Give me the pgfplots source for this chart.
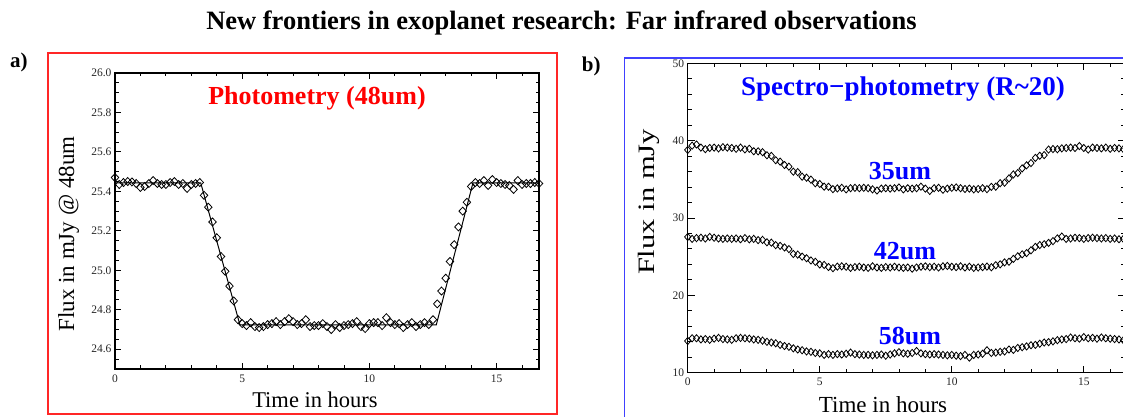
\documentclass[border=0pt]{standalone}
\usepackage{fontspec}
\setmainfont{Liberation Serif}
\usepackage{graphicx}
\usepackage{pgfplots}
\pgfplotsset{compat=1.18}
\usepackage{pgfplotstable}

\pgfplotstableread{
t flux
0 25.47
0.167 25.435
0.333 25.445
0.5 25.45
0.667 25.448
0.833 25.44
1 25.42
1.167 25.425
1.333 25.44
1.5 25.455
1.667 25.44
1.833 25.435
2 25.435
2.167 25.445
2.333 25.45
2.5 25.435
2.667 25.44
2.833 25.415
3 25.435
3.167 25.44
3.333 25.445
3.5 25.38
3.667 25.32
3.833 25.245
4 25.165
4.167 25.07
4.333 24.995
4.5 24.92
4.667 24.845
4.833 24.75
5 24.73
5.167 24.72
5.333 24.735
5.5 24.715
5.667 24.71
5.833 24.715
6 24.725
6.167 24.73
6.333 24.74
6.5 24.725
6.667 24.74
6.833 24.755
7 24.74
7.167 24.725
7.333 24.73
7.5 24.75
7.667 24.715
7.833 24.72
8 24.72
8.167 24.73
8.333 24.715
8.5 24.70
8.667 24.725
8.833 24.71
9 24.72
9.167 24.725
9.333 24.73
9.5 24.74
9.667 24.715
9.833 24.705
10 24.73
10.167 24.735
10.333 24.735
10.5 24.72
10.667 24.76
10.833 24.735
11 24.725
11.167 24.73
11.333 24.71
11.5 24.725
11.667 24.735
11.833 24.715
12 24.725
12.167 24.735
12.333 24.725
12.5 24.75
12.667 24.83
12.833 24.895
13 24.96
13.167 25.045
13.333 25.13
13.5 25.22
13.667 25.30
13.833 25.345
14 25.425
14.167 25.445
14.333 25.44
14.5 25.455
14.667 25.43
14.833 25.46
15 25.445
15.167 25.44
15.333 25.435
15.5 25.43
15.667 25.41
15.833 25.455
16 25.435
16.167 25.44
16.333 25.44
16.5 25.445
16.667 25.44
}\tablea

\pgfplotstableread{
t f35 f42 f58
0 38.8 27.55 14.1
0.167 39.35 27.3 14.45
0.333 39.5 27.4 14.45
0.5 39.1 27.45 14.3
0.667 38.9 27.35 14.35
0.833 39.05 27.55 14.25
1 39.1 27.45 14.4
1.167 39.0 27.35 14.5
1.333 39.15 27.3 14.35
1.5 39.1 27.35 14.3
1.667 39.05 27.3 14.25
1.833 38.95 27.35 14.45
2 39.1 27.25 14.5
2.167 38.87 27.4 14.45
2.333 38.95 27.24 14.4
2.5 38.63 27.30 14.3
2.667 38.62 27.14 14.25
2.833 38.51 27.17 14.15
3 38.11 26.86 14.0
3.167 38.03 26.81 13.9
3.333 37.47 26.49 13.8
3.5 37.29 26.40 13.6
3.667 36.85 26.19 13.45
3.833 36.64 25.98 13.35
4 35.99 25.35 13.15
4.167 35.93 25.27 13.0
4.333 35.34 25.01 12.9
4.5 35.21 24.80 12.75
4.667 34.96 24.51 12.7
4.833 34.49 24.34 12.55
5 34.40 23.99 12.5
5.167 34.05 23.93 12.3
5.333 34.04 23.66 12.4
5.5 33.73 23.51 12.3
5.667 33.82 23.71 12.4
5.833 33.9 23.75 12.35
6 33.7 23.7 12.45
6.167 33.85 23.55 12.6
6.333 33.9 23.65 12.4
6.5 33.85 23.7 12.35
6.667 33.9 23.6 12.3
6.833 33.85 23.55 12.3
7 33.7 23.75 12.25
7.167 33.55 23.6 12.3
7.333 33.8 23.55 12.35
7.5 33.85 23.65 12.2
7.667 33.8 23.6 12.35
7.833 33.85 23.7 12.5
8 33.95 23.6 12.65
8.167 33.7 23.55 12.5
8.333 33.85 23.6 12.45
8.5 33.8 23.45 12.55
8.667 33.85 23.6 12.8
8.833 34.05 23.7 12.5
9 33.8 23.75 12.4
9.167 33.5 23.65 12.35
9.333 33.85 23.7 12.4
9.5 33.9 23.6 12.35
9.667 33.65 23.75 12.3
9.833 33.8 23.8 12.25
10 33.9 23.7 12.3
10.167 33.95 23.65 12.2
10.333 33.85 23.75 12.15
10.5 33.75 23.6 12.3
10.667 33.8 23.7 11.95
10.833 33.7 23.55 12.3
11 33.75 23.6 12.35
11.167 33.85 23.65 12.45
11.333 33.73 23.72 12.9
11.5 34.03 23.63 12.55
11.667 34.05 23.90 12.6
11.833 34.50 24.01 12.7
12 34.56 24.26 12.75
12.167 35.12 24.34 13.0
12.333 35.63 24.71 12.95
12.5 35.81 25.05 13.2
12.667 36.41 25.30 13.3
12.833 36.81 25.46 13.4
13 37.10 25.82 13.55
13.167 37.77 26.27 13.6
13.333 38.05 26.50 13.75
13.5 38.13 26.61 13.9
13.667 38.85 26.78 13.95
13.833 38.91 27.01 14.05
14 38.89 27.36 14.2
14.167 39.0 27.60 14.3
14.333 39.05 27.30 14.35
14.5 39.1 27.35 14.55
14.667 39.05 27.45 14.45
14.833 39.3 27.4 14.4
15 39.05 27.3 14.6
15.167 38.85 27.4 14.45
15.333 39.1 27.45 14.5
15.5 39.05 27.4 14.4
15.667 39.0 27.35 14.55
15.833 39.1 27.4 14.45
16 38.95 27.3 14.4
16.167 39.05 27.35 14.35
16.333 39.0 27.25 14.3
16.5 38.9 27.3 14.2
}\tableb

\pgfplotsset{
  idl/.style={
    scale only axis,
    anchor=south west,
    /pgf/number format/assume math mode=true,
    tick label style={font=\fontsize{11.5}{12}\selectfont, text=black!85},
    tick style={black, line width=0.9pt},
    axis line style={line width=1.1pt},
    tick align=inside,
    xtick pos=both, ytick pos=both,
    xtick={0,5,10,15},
    minor xtick={0,1,...,16},
    xticklabel style={yshift=-2pt},
  }
}

\begin{document}
\begin{tikzpicture}[x=1pt,y=1pt]
\useasboundingbox (0,0) rectangle (1123,417);
\clip (0,0) rectangle (1123,417);
\fill[white] (0,0) rectangle (1123,417);
\draw[red!85!white, line width=1.2pt] (48,3) rectangle (557,364);
\draw[blue!75!white, line width=1.2pt] (624.3,-10) rectangle (1140,359);

\node[font=\fontsize{26.5}{28}\selectfont\bfseries, anchor=base, inner sep=0pt] at (561.5,387) {New frontiers in exoplanet research: Far infrared observations};
\node[font=\fontsize{21}{24}\selectfont\bfseries, anchor=base west, inner sep=0pt] at (10,349.3) {a)};
\node[font=\fontsize{21}{24}\selectfont\bfseries, anchor=base west, inner sep=0pt] at (581.7,345.3) {b)};

\begin{axis}[idl,
  at={(115pt,48pt)}, width=424pt, height=296pt,
  xmin=0, xmax=16.667, ymin=24.5, ymax=26.0,
  ytick={24.6,24.8,25.0,25.2,25.4,25.6,25.8,26.0},
  minor ytick={24.5,24.55,...,26.0},
  yticklabel style={/pgf/number format/.cd, fixed, fixed zerofill, precision=1},
  major tick length=6pt, minor tick length=3.5pt,
]
\addplot[only marks, mark=diamond, mark size=4pt, mark options={line width=0.8pt, black, xscale=1.25}] table[x=t,y=flux]{\tablea};
\addplot[black, line width=1pt, no marks] coordinates {(0,25.443) (3.37,25.443) (4.91,24.724) (12.63,24.724) (14.07,25.443) (16.667,25.443)};
\end{axis}

\node[font=\fontsize{26}{28}\selectfont\bfseries, text=red, anchor=base, inner sep=0pt] at (317,312) {Photometry (48um)};
\node[font=\fontsize{23}{26}\selectfont, rotate=90, inner sep=0pt] at (68.7,183) {Flux in mJy @ 48um};
\node[font=\fontsize{22.5}{24}\selectfont, anchor=base, inner sep=0pt] at (315,9) {Time in hours};

\begin{axis}[idl,
  at={(687.7pt,44.3pt)}, width=437pt, height=309.4pt,
  xmin=0, xmax=16.55, ymin=10, ymax=50,
  ytick={10,20,30,40,50},
  minor ytick={10,12,...,50},
  major tick length=7pt, minor tick length=4pt,
]
\addplot[only marks, mark=diamond, mark size=3.6pt, mark options={line width=0.8pt, black, xscale=1.15}] table[x=t,y=f35]{\tableb};
\addplot[only marks, mark=diamond, mark size=3.6pt, mark options={line width=0.8pt, black, xscale=1.15}] table[x=t,y=f42]{\tableb};
\addplot[only marks, mark=diamond, mark size=3.6pt, mark options={line width=0.8pt, black, xscale=1.15}] table[x=t,y=f58]{\tableb};
\end{axis}

\node[font=\fontsize{27}{29}\selectfont\bfseries, text=blue, anchor=base, inner sep=0pt] at (903,321) {Spectro\char"2212 photometry (R\char"007E 20)};
\node[font=\fontsize{26}{28}\selectfont\bfseries, text=blue, anchor=base, inner sep=0pt] at (900,237.5) {35um};
\node[font=\fontsize{26}{28}\selectfont\bfseries, text=blue, anchor=base, inner sep=0pt] at (905,157.5) {42um};
\node[font=\fontsize{26}{28}\selectfont\bfseries, text=blue, anchor=base, inner sep=0pt] at (910,72.5) {58um};
\node[font=\fontsize{23.5}{26}\selectfont, rotate=90, inner sep=0pt] at (648.7,215) {\scalebox{1.3}[1]{Flux in mJy}};
\node[font=\fontsize{23}{24}\selectfont, anchor=base, inner sep=0pt] at (883,4) {Time in hours};
\end{tikzpicture}
\end{document}
